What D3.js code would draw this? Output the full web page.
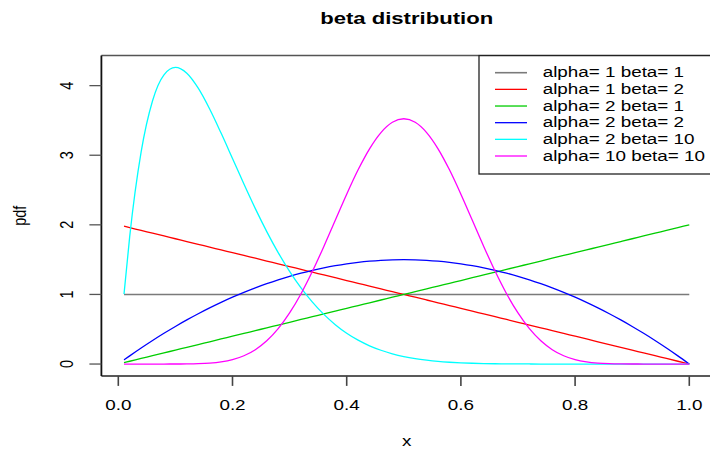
<!DOCTYPE html>
<html>
<head>
<meta charset="utf-8">
<script src="https://cdn.jsdelivr.net/npm/d3@7"></script>
<style>
  html, body { margin: 0; padding: 0; background: #fff; }
  text { font-family: "Liberation Sans", Arial, Helvetica, sans-serif; fill: #000; }
</style>
</head>
<body>
<svg id="chart" width="710" height="450"></svg>
<script>
// Grid of x values shared by every density curve
const xs = [0.01, 0.02, 0.04, 0.06, 0.08, 0.10, 0.12, 0.14, 0.16, 0.18, 0.20,
  0.22, 0.24, 0.26, 0.28, 0.30, 0.32, 0.34, 0.36, 0.38, 0.40,
  0.42, 0.44, 0.46, 0.48, 0.50, 0.52, 0.54, 0.56, 0.58, 0.60,
  0.62, 0.64, 0.66, 0.68, 0.70, 0.72, 0.74, 0.76, 0.78, 0.80,
  0.82, 0.84, 0.86, 0.88, 0.90, 0.92, 0.94, 0.96, 0.98, 1.00];

// Density values at each x, one array per parameter pair
const pdf_a1_b1 = [1, 1, 1, 1, 1, 1, 1, 1, 1, 1, 1,
  1, 1, 1, 1, 1, 1, 1, 1, 1, 1,
  1, 1, 1, 1, 1, 1, 1, 1, 1, 1,
  1, 1, 1, 1, 1, 1, 1, 1, 1, 1,
  1, 1, 1, 1, 1, 1, 1, 1, 1, 1];

const pdf_a1_b2 = [1.98, 1.96, 1.92, 1.88, 1.84, 1.80, 1.76, 1.72, 1.68, 1.64, 1.60,
  1.56, 1.52, 1.48, 1.44, 1.40, 1.36, 1.32, 1.28, 1.24, 1.20,
  1.16, 1.12, 1.08, 1.04, 1.00, 0.96, 0.92, 0.88, 0.84, 0.80,
  0.76, 0.72, 0.68, 0.64, 0.60, 0.56, 0.52, 0.48, 0.44, 0.40,
  0.36, 0.32, 0.28, 0.24, 0.20, 0.16, 0.12, 0.08, 0.04, 0.00];

const pdf_a2_b1 = [0.02, 0.04, 0.08, 0.12, 0.16, 0.20, 0.24, 0.28, 0.32, 0.36, 0.40,
  0.44, 0.48, 0.52, 0.56, 0.60, 0.64, 0.68, 0.72, 0.76, 0.80,
  0.84, 0.88, 0.92, 0.96, 1.00, 1.04, 1.08, 1.12, 1.16, 1.20,
  1.24, 1.28, 1.32, 1.36, 1.40, 1.44, 1.48, 1.52, 1.56, 1.60,
  1.64, 1.68, 1.72, 1.76, 1.80, 1.84, 1.88, 1.92, 1.96, 2.00];

const pdf_a2_b2 = [0.0594, 0.1176, 0.2304, 0.3384, 0.4416, 0.5400, 0.6336, 0.7224, 0.8064, 0.8856, 0.9600,
  1.0296, 1.0944, 1.1544, 1.2096, 1.2600, 1.3056, 1.3464, 1.3824, 1.4136, 1.4400,
  1.4616, 1.4784, 1.4904, 1.4976, 1.5000, 1.4976, 1.4904, 1.4784, 1.4616, 1.4400,
  1.4136, 1.3824, 1.3464, 1.3056, 1.2600, 1.2096, 1.1544, 1.0944, 1.0296, 0.9600,
  0.8856, 0.8064, 0.7224, 0.6336, 0.5400, 0.4416, 0.3384, 0.2304, 0.1176, 0.0000];

const pdf_a2_b10 = [1.005, 1.834, 3.047, 3.782, 4.155, 4.261, 4.178, 3.963, 3.664, 3.318, 2.953,
  2.586, 2.233, 1.903, 1.601, 1.332, 1.094, 0.889, 0.713, 0.566, 0.443,
  0.343, 0.262, 0.198, 0.147, 0.107, 0.077, 0.055, 0.038, 0.026, 0.017,
  0.011, 0.007, 0.004, 0.003, 0.002, 0.001, 0.000, 0.000, 0.000, 0.000,
  0.000, 0.000, 0.000, 0.000, 0.000, 0.000, 0.000, 0.000, 0.000, 0.000];

const pdf_a10_b10 = [0.0000, 0.0000, 0.0000, 0.0000, 0.0001, 0.0004, 0.0015, 0.0049, 0.0132, 0.0307, 0.0635,
  0.1192, 0.2064, 0.3337, 0.5080, 0.7337, 1.0104, 1.3328, 1.6899, 2.0660, 2.4403,
  2.7903, 3.0925, 3.3258, 3.4735, 3.5239, 3.4735, 3.3258, 3.0925, 2.7903, 2.4403,
  2.0660, 1.6899, 1.3328, 1.0104, 0.7337, 0.5080, 0.3337, 0.2064, 0.1192, 0.0635,
  0.0307, 0.0132, 0.0049, 0.0015, 0.0004, 0.0001, 0.0000, 0.0000, 0.0000, 0.0000];

const seriesLabels = ["alpha= 1 beta= 1", "alpha= 1 beta= 2", "alpha= 2 beta= 1",
  "alpha= 2 beta= 2", "alpha= 2 beta= 10", "alpha= 10 beta= 10"];
const seriesValues = [pdf_a1_b1, pdf_a1_b2, pdf_a2_b1, pdf_a2_b2, pdf_a2_b10, pdf_a10_b10];
const seriesColors = ["#7a7a7a", "#ff0000", "#00cd00", "#0000ff", "#00ffff", "#ff00ff"];

const xTicks = [0.0, 0.2, 0.4, 0.6, 0.8, 1.0];
const yTicks = [0, 1, 2, 3, 4];

const titleText = "beta distribution";
const xLabel = "x";
const yLabel = "pdf";

// ---- layout ----
const svg = d3.select("#chart");
const SX = 1.3;           // horizontal text stretch
const FS = 14.5;          // base font size

const xMin = d3.min(xs), xMax = d3.max(xs);
const yMax = d3.max(seriesValues.flat());
const xPad = (xMax - xMin) * 0.04, yPad = yMax * 0.04;

const plot = { left: 101.4, right: 711.9, top: 55.6, bottom: 375.9 };
const x = d3.scaleLinear().domain([xMin - xPad, xMax + xPad]).range([plot.left, plot.right]);
const y = d3.scaleLinear().domain([0 - yPad, yMax + yPad]).range([plot.bottom, plot.top]);

function label(g, str, px, py, opts = {}) {
  const t = g.append("text")
    .attr("transform", `translate(${px},${py}) scale(${SX},1)` + (opts.rotate ? ` rotate(${opts.rotate})` : ""))
    .attr("text-anchor", opts.anchor || "middle")
    .attr("dominant-baseline", "central")
    .style("font-size", (opts.size || FS) + "px")
    .text(str);
  if (opts.bold) t.style("font-weight", "bold");
  return t;
}

// ---- curves ----
const line = d3.line()
  .x((d, i) => x(xs[i]))
  .y(d => y(d))
  .curve(d3.curveMonotoneX);

svg.append("g").attr("class", "curves")
  .selectAll("path")
  .data(seriesValues)
  .join("path")
  .attr("d", d => line(d))
  .attr("fill", "none")
  .attr("stroke", (d, i) => seriesColors[i])
  .attr("stroke-width", (d, i) => i === 0 ? 1.6 : 1.3);

// ---- frame ----
const frame = svg.append("g").attr("class", "frame");
frame.append("line").attr("x1", plot.left).attr("x2", plot.right).attr("y1", plot.top).attr("y2", plot.top)
  .attr("stroke", "#555").attr("stroke-width", 1.5);
frame.append("line").attr("x1", plot.left).attr("x2", plot.right).attr("y1", plot.bottom).attr("y2", plot.bottom)
  .attr("stroke", "#222").attr("stroke-width", 1.5);
frame.append("line").attr("x1", plot.left).attr("x2", plot.left).attr("y1", plot.top).attr("y2", plot.bottom)
  .attr("stroke", "#111").attr("stroke-width", 1.8);

// ---- axes ----
const xAxis = svg.append("g").attr("class", "x-axis");
xAxis.selectAll("line").data(xTicks).join("line")
  .attr("x1", d => x(d)).attr("x2", d => x(d))
  .attr("y1", plot.bottom).attr("y2", plot.bottom + 10)
  .attr("stroke", "#444").attr("stroke-width", 1.6);
xTicks.forEach(d => label(xAxis, d.toFixed(1), x(d), 405));

const yAxis = svg.append("g").attr("class", "y-axis");
yAxis.selectAll("line").data(yTicks).join("line")
  .attr("x1", plot.left - 12).attr("x2", plot.left)
  .attr("y1", d => y(d)).attr("y2", d => y(d))
  .attr("stroke", "#555").attr("stroke-width", 1.3);
yTicks.forEach(d => label(yAxis, String(d), 67, y(d), { rotate: -90 }));

// ---- titles ----
label(svg, titleText, (plot.left + plot.right) / 2, 18, { bold: true, size: 17 });
label(svg, xLabel, (plot.left + plot.right) / 2, 441);
label(svg, yLabel, 20, (plot.top + plot.bottom) / 2, { rotate: -90 });

// ---- legend ----
const legend = svg.append("g").attr("class", "legend");
const lg = { left: 479, top: plot.top, bottom: 174, right: plot.right };
legend.append("rect")
  .attr("x", lg.left).attr("y", lg.top)
  .attr("width", lg.right - lg.left).attr("height", lg.bottom - lg.top)
  .attr("fill", "#fff").attr("stroke", "#222").attr("stroke-width", 1.3);
const rowY = i => 72.7 + i * 16.66;
seriesLabels.forEach((s, i) => {
  legend.append("line")
    .attr("x1", 495).attr("x2", 527)
    .attr("y1", rowY(i)).attr("y2", rowY(i))
    .attr("stroke", seriesColors[i]).attr("stroke-width", i === 0 ? 1.6 : 1.3);
  label(legend, s, 542.7, rowY(i), { anchor: "start" });
});
</script>
</body>
</html>
